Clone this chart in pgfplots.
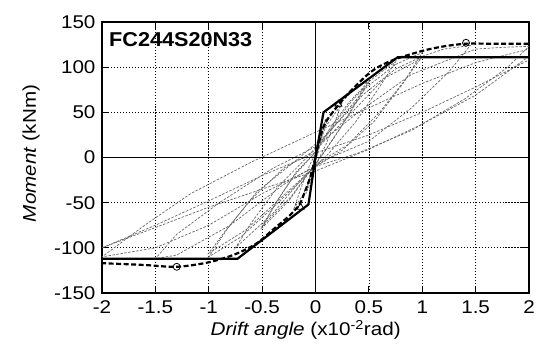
\documentclass[border=0pt]{standalone}
\usepackage{fontspec}
\setmainfont[FakeStretch=1.12]{Liberation Sans}
\usepackage{graphicx}
\usepackage{pgfplots}
\pgfplotsset{compat=1.18}
\begin{document}
\begin{tikzpicture}
\begin{axis}[name=ax, scale only axis, width=427bp, height=271bp,
  xmin=-2, xmax=2, ymin=-150, ymax=150,
  xtick={-2,-1.5,-1,-0.5,0,0.5,1,1.5,2},
  ytick={-150,-100,-50,0,50,100,150},
  /pgf/number format/assume math mode=true,
  grid=major, grid style={black, line width=0.7pt, dash pattern=on 1.2pt off 1.8pt},
  axis line style={line width=1.5pt},
  tick align=inside, major tick length=7bp,
  tick style={black, line width=1.2pt},
  ticklabel style={font=\fontsize{18.5}{20}\selectfont},
  yticklabel style={xshift=-3bp},
  xticklabel style={yshift=-4bp},
  xlabel={\textit{Drift angle} (x10\textsuperscript{-2}rad)},
  ylabel={\textit{Moment} (kNm)},
  xlabel style={font=\fontsize{18.5}{20}\selectfont, at={(axis description cs:0.477,-0.1365)}, anchor=center},
  ylabel style={font=\fontsize{18.5}{20}\selectfont, at={(axis description cs:-0.166,0.515)}, anchor=center},
  clip=true,
]
% gray hysteresis loops
\pgfplotsset{gl/.style={black!60, line width=0.7pt, dash pattern=on 2.5pt off 1.5pt}}
\addplot[gl] coordinates {(0,0)(0.03,20)(0.07,35)(0.1,42)(0.07,28)(0.03,8)(0,-3)(-0.03,-18)(-0.06,-32)(-0.09,-40)(-0.06,-25)(-0.02,-6)(0,3)(0.05,28)(0.1,44)};
\addplot[gl] coordinates {(0,0)(0.06,28)(0.13,45)(0.25,62)(0.19,42)(0.1,15)(0.02,-4)(-0.05,-24)(-0.12,-42)(-0.2,-56)(-0.14,-35)(-0.06,-10)(0,5)(0.1,35)(0.25,60)};
\addplot[gl] coordinates {(0.25,62)(0.35,74)(0.5,88)(0.38,62)(0.22,30)(0.06,2)(-0.08,-20)(-0.25,-48)(-0.5,-78)(-0.38,-52)(-0.2,-20)(-0.03,2)(0.15,35)(0.32,62)(0.5,84)};
\addplot[gl] coordinates {(0.5,84)(0.4,64)(0.25,36)(0.08,6)(-0.06,-16)(-0.22,-42)(-0.5,-76)(-0.36,-48)(-0.18,-16)(0,6)(0.18,38)(0.35,64)(0.5,82)};
\addplot[gl] coordinates {(0.5,84)(0.62,95)(0.75,106)(0.6,78)(0.38,40)(0.12,4)(-0.1,-20)(-0.4,-62)(-0.75,-100)(-0.6,-72)(-0.35,-32)(-0.08,0)(0.2,38)(0.48,78)(0.75,103)};
\addplot[gl] coordinates {(0.75,103)(0.88,110)(1,116)(0.82,82)(0.55,40)(0.25,8)(0,-10)(-0.35,-50)(-0.7,-88)(-1,-110)(-0.82,-78)(-0.55,-38)(-0.2,-5)(0.1,25)(0.45,70)(0.75,98)(1,112)};
\addplot[gl] coordinates {(1,112)(0.84,86)(0.6,50)(0.3,14)(0.05,-4)(-0.3,-42)(-0.65,-80)(-1,-106)(-0.85,-82)(-0.6,-46)(-0.3,-12)(0,8)(0.3,45)(0.65,88)(1,110)};
\addplot[gl] coordinates {(1,112)(1.2,120)(1.45,124)(1.25,95)(0.9,55)(0.5,18)(0.1,-2)(-0.3,-30)(-0.8,-75)(-1.3,-108)(-1.5,-112)(-1.3,-85)(-0.9,-50)(-0.4,-12)(0,12)(0.4,50)(0.9,92)(1.5,120)};
\addplot[gl] coordinates {(1.5,120)(1.75,122)(2,123)(1.8,100)(1.4,65)(0.9,30)(0.4,5)(0,-10)(-0.5,-40)(-1,-75)(-1.5,-100)(-2,-110)(-1.6,-75)(-1.17,-40)(-0.6,-5)(0,28)(0.5,55)(1,82)(1.5,105)(2,120)};
\addplot[gl] coordinates {(2,112)(1.5,69)(1,37)(0.5,9)(0,-15)(-1,-55)(-2,-100)(-1.5,-75)(-1,-48)(-0.5,-20)(0,5)(0.5,25)(1,50)(1.5,78)(2,108)};
% axes through origin
\addplot[black, line width=1.5pt] coordinates {(0,-150)(0,150)};
\addplot[black, line width=1.5pt] coordinates {(-2,0)(2,0)};
% backbone
\addplot[black, line width=2.2pt] coordinates {(-2,-112)(-0.73,-112)(-0.066,-52)(0,0)(0.075,50)(0.77,111)(2,111)};
% envelope
\addplot[black, line width=2.2pt, dash pattern=on 5bp off 2.5bp, smooth] coordinates {(0,0)(0.05,25)(0.1,40)(0.2,56)(0.3,70)(0.4,82)(0.5,93)(0.6,101)(0.75,109)(1.0,118)(1.2,123)(1.41,126)(1.6,126)(1.8,126)(2,126)};
\addplot[black, line width=2.2pt, dash pattern=on 5bp off 2.5bp, smooth] coordinates {(0,0)(-0.05,-22)(-0.1,-38)(-0.15,-52)(-0.25,-65)(-0.4,-80)(-0.55,-95)(-0.75,-107)(-1.0,-116)(-1.3,-121)(-1.6,-119)(-2,-117)};
% markers
\addplot[only marks, mark=o, mark size=3.5bp, mark options={fill=white, line width=0.8pt}] coordinates {(1.41,127)(-1.3,-121)};
\addplot[only marks, mark=triangle, mark size=4bp, mark options={fill=white, line width=0.8pt}] coordinates {(0.215,59)(-0.14,-55)};
\node[anchor=north west, inner sep=0pt] at (rel axis cs:0.0164,0.9605) {\resizebox{143bp}{14bp}{\bfseries FC244S20N33}};
\end{axis}
\path (ax.south west) ++(-102bp,-63bp);
\path (ax.north east) ++(11bp,22bp);
\end{tikzpicture}
\end{document}
